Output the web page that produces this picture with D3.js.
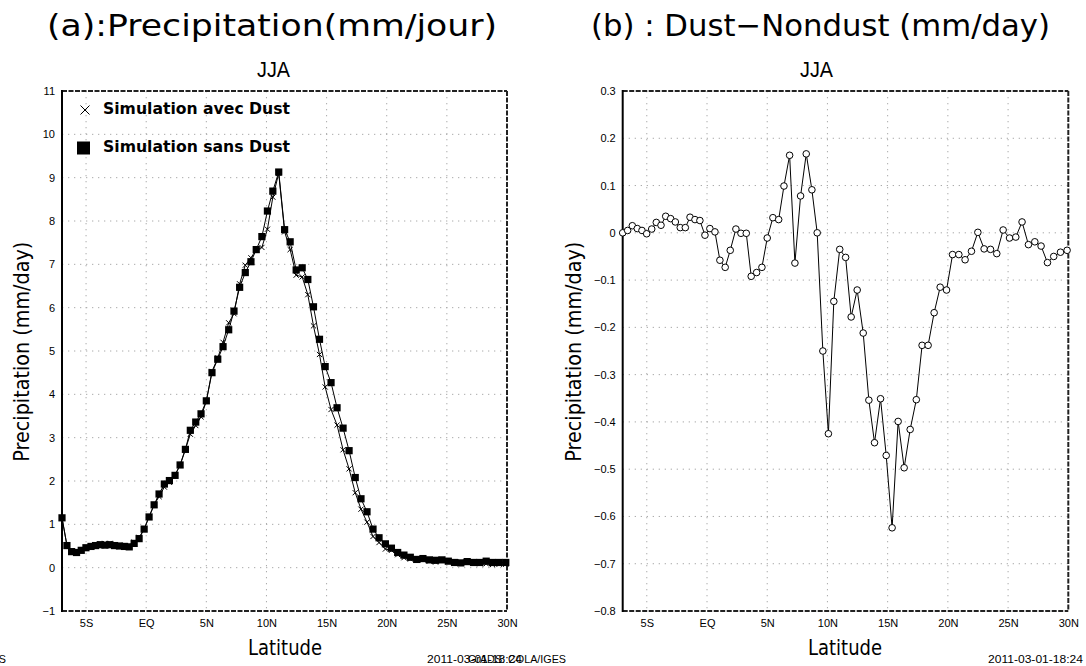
<!DOCTYPE html>
<html>
<head>
<meta charset="utf-8">
<script src="https://cdn.jsdelivr.net/npm/d3@7"></script>
<style>
  html, body { margin: 0; padding: 0; background: #fff; }
  svg { display: block; }
</style>
</head>
<body>
<svg id="chart" width="1086" height="666"></svg>
<script>
// ---------------- DATA ----------------
const latitudes = [-7.00,-6.59,-6.20,-5.79,-5.40,-5.01,-4.59,-4.21,-3.82,-3.43,-3.02,-2.63,-2.22,-1.80,-1.41,-1.00,-0.59,-0.17,0.24,0.66,
  1.07,1.51,1.93,2.40,2.82,3.26,3.67,4.12,4.56,5.00,5.47,5.95,6.39,6.86,7.30,7.77,8.24,8.71,9.15,9.62,
  10.08,10.53,11.02,11.51,11.97,12.47,12.97,13.44,13.91,14.41,14.88,15.37,15.87,16.37,16.87,17.38,17.86,18.36,18.86,19.36,
  19.89,20.39,20.91,21.43,21.96,22.49,23.01,23.54,24.06,24.59,25.12,25.64,26.16,26.69,27.22,27.74,28.27,28.79,29.35,29.90];

const sansDust = [1.15,0.51,0.37,0.35,0.40,0.46,0.49,0.51,0.53,0.52,0.53,0.51,0.50,0.49,0.48,0.56,0.67,0.89,1.17,1.45,
  1.70,1.93,2.01,2.13,2.37,2.73,3.17,3.36,3.55,3.85,4.50,4.81,5.10,5.49,5.92,6.47,6.81,7.06,7.34,7.64,
  8.23,8.69,9.13,7.80,7.52,6.87,6.92,6.65,6.02,5.27,4.64,4.27,3.69,3.22,2.70,2.08,1.59,1.29,0.89,0.69,
  0.55,0.45,0.35,0.29,0.24,0.19,0.21,0.18,0.17,0.18,0.15,0.12,0.11,0.14,0.12,0.12,0.15,0.12,0.12,0.12];

const avecDust = [1.15,0.52,0.39,0.36,0.41,0.46,0.50,0.53,0.55,0.56,0.56,0.53,0.51,0.50,0.51,0.59,0.70,0.89,1.18,1.45,
  1.64,1.86,1.97,2.14,2.37,2.73,3.08,3.28,3.48,3.84,4.53,4.84,5.20,5.65,5.86,6.55,6.98,7.15,7.34,7.39,
  7.81,8.55,9.10,7.75,7.34,6.75,6.71,6.30,5.58,4.92,4.17,3.65,3.29,2.72,2.28,1.73,1.35,1.05,0.72,0.58,
  0.43,0.40,0.30,0.23,0.20,0.19,0.18,0.15,0.13,0.19,0.14,0.11,0.13,0.12,0.10,0.09,0.09,0.07,0.08,0.08];

const dustMinusNondust = [0.000,0.005,0.015,0.009,0.005,-0.002,0.008,0.022,0.016,0.035,0.030,0.023,0.011,0.011,0.033,0.028,0.026,-0.005,0.009,0.002,
  -0.058,-0.073,-0.037,0.008,-0.001,-0.001,-0.092,-0.084,-0.073,-0.011,0.032,0.028,0.099,0.164,-0.064,0.078,0.167,0.091,0.000,-0.250,
  -0.425,-0.145,-0.035,-0.052,-0.178,-0.121,-0.212,-0.354,-0.444,-0.351,-0.471,-0.624,-0.399,-0.497,-0.416,-0.353,-0.238,-0.238,-0.169,-0.115,
  -0.121,-0.046,-0.046,-0.057,-0.039,0.001,-0.034,-0.035,-0.044,0.006,-0.011,-0.009,0.023,-0.025,-0.019,-0.028,-0.063,-0.050,-0.041,-0.037];

const xTickValues = [-5,0,5,10,15,20,25,30];
const xTickLabels = ["5S","EQ","5N","10N","15N","20N","25N","30N"];
const yTicksA = [-1,0,1,2,3,4,5,6,7,8,9,10,11];
const yTicksB = [-0.8,-0.7,-0.6,-0.5,-0.4,-0.3,-0.2,-0.1,0,0.1,0.2,0.3];

const titleA = "(a):Precipitation(mm/jour)";
const titleB = "(b) : Dust\u2212Nondust (mm/day)";
const subTitle = "JJA";
const yLabel = "Precipitation (mm/day)";
const xLabel = "Latitude";
const legendLabels = ["Simulation avec Dust", "Simulation sans Dust"];
const dateStamp = "2011-03-01-18:24";
const gradsStamp = "GrADS: COLA/IGES";

// ---------------- DRAW ----------------
const svg = d3.select("#chart");
const titleFont = "'DejaVu Sans', sans-serif";
const tickFont = "'Liberation Sans', Arial, sans-serif";

function panel(opts) {
  const g = svg.append("g");
  const x = d3.scaleLinear().domain([-7, 30]).range([opts.x0, opts.x1]);
  const y = d3.scaleLinear().domain(opts.yDomain).range([611, 91]);

  // grid
  const grid = g.append("g").attr("stroke", "#aaa").attr("stroke-width", 1)
    .attr("stroke-dasharray", "1.3,4.7");
  grid.selectAll("line.v").data(xTickValues.filter(v => v < 30)).join("line")
    .attr("x1", d => x(d)).attr("x2", d => x(d)).attr("y1", 91).attr("y2", 611);
  grid.selectAll("line.h").data(opts.yTicks.filter(v => v > opts.yDomain[0] && v < opts.yDomain[1])).join("line")
    .attr("x1", opts.x0).attr("x2", opts.x1).attr("y1", d => y(d)).attr("y2", d => y(d));

  // axes via d3 (labels only, lines drawn as frame)
  const xAxis = d3.axisBottom(x).tickValues(xTickValues)
    .tickFormat((d, i) => xTickLabels[i]).tickSize(0).tickPadding(8);
  const gx = g.append("g").attr("transform", "translate(0,611)").call(xAxis);
  gx.select(".domain").remove();
  gx.selectAll("text").attr("font-family", tickFont).attr("font-size", 11).attr("fill", "#000");

  const yAxis = d3.axisLeft(y).tickValues(opts.yTicks).tickFormat(opts.fmt).tickSize(0).tickPadding(7);
  const gy = g.append("g").attr("transform", `translate(${opts.x0},0)`).call(yAxis);
  gy.select(".domain").remove();
  gy.selectAll("text").attr("font-family", tickFont).attr("font-size", 11).attr("fill", "#000");

  // frame
  const frame = g.append("g").attr("fill", "none");
  frame.append("line").attr("x1", opts.x0).attr("x2", opts.x1).attr("y1", 91).attr("y2", 91)
    .attr("stroke", "#222").attr("stroke-width", 2).attr("stroke-dasharray", "5,1.5");
  frame.append("line").attr("x1", opts.x0).attr("x2", opts.x1).attr("y1", 611).attr("y2", 611)
    .attr("stroke", "#222").attr("stroke-width", 2).attr("stroke-dasharray", "5,1.5");
  frame.append("line").attr("x1", opts.x1).attr("x2", opts.x1).attr("y1", 91).attr("y2", 611)
    .attr("stroke", "#222").attr("stroke-width", 2).attr("stroke-dasharray", "5,1.5");
  frame.append("line").attr("x1", opts.x0).attr("x2", opts.x0).attr("y1", 90).attr("y2", 612)
    .attr("stroke", "#000").attr("stroke-width", 2);

  // titles
  svg.append("text").attr("x", opts.titleX).attr("y", 36).attr("font-family", titleFont)
    .attr("font-size", 31).attr("textLength", opts.titleW).attr("lengthAdjust", "spacingAndGlyphs")
    .text(opts.title);
  svg.append("text").attr("x", opts.jjaX).attr("y", 77).attr("font-family", tickFont)
    .attr("font-size", 22).attr("textLength", 33).attr("lengthAdjust", "spacingAndGlyphs")
    .text(subTitle);
  svg.append("text").attr("transform", `translate(${opts.yLabX},461.7) rotate(-90)`)
    .attr("font-family", titleFont).attr("font-size", 21)
    .attr("textLength", 220).attr("lengthAdjust", "spacingAndGlyphs").text(yLabel);
  svg.append("text").attr("x", opts.xLabX).attr("y", 655).attr("font-family", titleFont)
    .attr("font-size", 22).attr("textLength", 74).attr("lengthAdjust", "spacingAndGlyphs").text(xLabel);
  svg.append("text").attr("x", opts.dateX).attr("y", 663).attr("font-family", tickFont)
    .attr("font-size", 10.5).attr("textLength", 95).attr("lengthAdjust", "spacingAndGlyphs").text(dateStamp);
  svg.append("text").attr("x", opts.gradsEnd).attr("y", 663).attr("text-anchor", "end").attr("font-family", tickFont)
    .attr("font-size", 10.5).attr("textLength", 98).attr("lengthAdjust", "spacingAndGlyphs").text(gradsStamp);

  return { g, x, y };
}

// Panel (a)
const A = panel({ x0: 62, x1: 507, yDomain: [-1, 11], yTicks: yTicksA, fmt: d3.format("d"),
  title: titleA, titleX: 47, titleW: 450, jjaX: 257, yLabX: 28.5, xLabX: 248, dateX: 427, gradsEnd: 6 });

const lineA = d3.line().x((d, i) => A.x(latitudes[i])).y(d => A.y(d));
A.g.append("path").datum(avecDust).attr("d", lineA).attr("fill", "none").attr("stroke", "#000").attr("stroke-width", 1);
A.g.append("path").datum(sansDust).attr("d", lineA).attr("fill", "none").attr("stroke", "#000").attr("stroke-width", 1);

const cross = (sel, cx, cy, r, w) => {
  sel.append("path").attr("d", `M${cx - r},${cy - r}L${cx + r},${cy + r}M${cx - r},${cy + r}L${cx + r},${cy - r}`)
    .attr("stroke", "#000").attr("stroke-width", w).attr("fill", "none");
};
const crossG = A.g.append("g");
avecDust.forEach((v, i) => cross(crossG, A.x(latitudes[i]), A.y(v), 2.6, 1));
A.g.append("g").selectAll("rect").data(sansDust).join("rect")
  .attr("x", (d, i) => A.x(latitudes[i]) - 3.6).attr("y", d => A.y(d) - 3.6)
  .attr("width", 7.2).attr("height", 7.2).attr("fill", "#000");

// legend
const leg = svg.append("g");
cross(leg, 85, 110, 4.5, 1);
leg.append("rect").attr("x", 77).attr("y", 141.5).attr("width", 13).attr("height", 13).attr("fill", "#000");
leg.append("text").attr("x", 103).attr("y", 113.5).attr("font-family", "'DejaVu Sans', sans-serif")
  .attr("font-weight", "bold").attr("font-size", 15).attr("textLength", 187).attr("lengthAdjust", "spacingAndGlyphs")
  .text(legendLabels[0]);
leg.append("text").attr("x", 103).attr("y", 151.5).attr("font-family", "'DejaVu Sans', sans-serif")
  .attr("font-weight", "bold").attr("font-size", 15).attr("textLength", 187).attr("lengthAdjust", "spacingAndGlyphs")
  .text(legendLabels[1]);

// Panel (b)
const B = panel({ x0: 622.7, x1: 1068.3, yDomain: [-0.8, 0.3], yTicks: yTicksB,
  fmt: d => d === 0 ? "0" : d3.format(".1f")(d),
  title: titleB, titleX: 591, titleW: 459, jjaX: 800, yLabX: 580.5, xLabX: 808, dateX: 988, gradsEnd: 566 });

const lineB = d3.line().x((d, i) => B.x(latitudes[i])).y(d => B.y(d));
B.g.append("path").datum(dustMinusNondust).attr("d", lineB).attr("fill", "none").attr("stroke", "#000").attr("stroke-width", 1);
B.g.append("g").selectAll("circle").data(dustMinusNondust).join("circle")
  .attr("cx", (d, i) => B.x(latitudes[i])).attr("cy", d => B.y(d)).attr("r", 3.3)
  .attr("fill", "#fff").attr("stroke", "#000").attr("stroke-width", 1);
</script>
</body>
</html>
